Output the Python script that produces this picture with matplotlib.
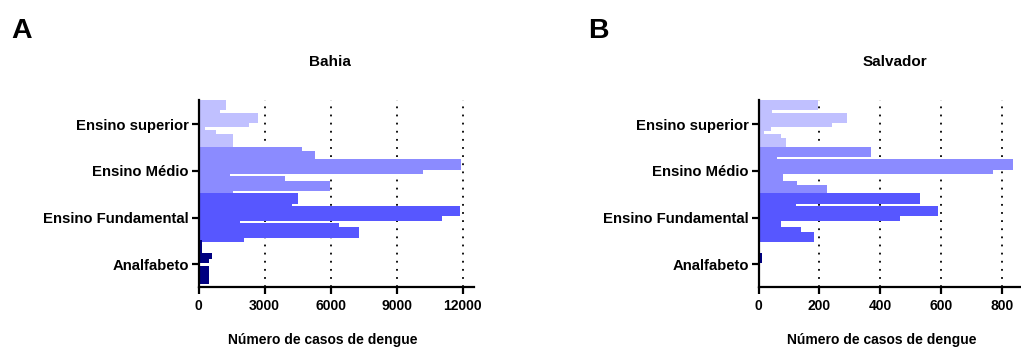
import matplotlib
matplotlib.use('Agg')
import matplotlib.pyplot as plt
import numpy as np

plt.rcParams['font.family'] = ['Liberation Sans', 'DejaVu Sans']
plt.rcParams['font.weight'] = 'bold'

# categories, bottom to top
categories = ['Analfabeto', 'Ensino Fundamental', 'Ensino Médio', 'Ensino superior']

# 11 overlapping bars per category (top bar first)
bahia_superior = [1270, 1270, 970, 2697, 2697, 2273, 318, 800, 1576, 1576, 1550]
bahia_medio = [4683, 5300, 5300, 11940, 11940, 10220, 1450, 3925, 5994, 5994, 1555]
bahia_fundamental = [4545, 4545, 4242, 11909, 11909, 11090, 1894, 6394, 7303, 7303, 2090]
bahia_analfabeto = [150, 150, 150, 606, 485, 60, 470, 470, 470, 470, 0]

salvador_superior = [194, 194, 43, 292, 292, 241, 40, 18, 75, 90, 90]
salvador_medio = [370, 370, 62, 835, 835, 769, 81, 81, 125, 226, 226]
salvador_fundamental = [531, 531, 124, 588, 588, 464, 73, 73, 140, 181, 181]
salvador_analfabeto = [3, 1, 1, 13, 12, 1, 1, 3, 4, 2, 0]

bahia_ticks = [0, 3000, 6000, 9000, 12000]
salvador_ticks = [0, 200, 400, 600, 800]

colors = ['#000080', '#5757FF', '#8B8BFF', '#C0C0FF']

W, H = 1021, 349
fig = plt.figure(figsize=(W / 100, H / 100), dpi=100)


def px_axes(left, right, top, bottom):
    return fig.add_axes([left / W, 1 - bottom / H, (right - left) / W, (bottom - top) / H])


def draw_panel(ax, groups, xmax, ticks):
    n = len(groups[0])
    step = 1.0 / n
    thick = 1.41 * step
    span = (n - 1) * step + thick
    # draw top group first so lower groups sit on top of the overlap
    for g in range(len(groups) - 1, -1, -1):
        vals = groups[g]
        top = g + span / 2
        ys = [top - k * step - thick / 2 for k in range(n)]
        ax.barh(ys, vals, height=thick, color=colors[g], linewidth=0, zorder=2)
    ax.set_xlim(0, xmax)
    ax.set_ylim(-0.48, 3 + span / 2)
    ax.set_xticks(ticks)
    ax.set_yticks(range(len(categories)))
    ax.set_yticklabels(categories)
    ax.xaxis.grid(True, linestyle=(0, (1, 3.5)), color='black', linewidth=1.3)
    ax.set_axisbelow(True)
    for s in ['top', 'right']:
        ax.spines[s].set_visible(False)
    for s in ['left', 'bottom']:
        ax.spines[s].set_linewidth(1.6)
        ax.spines[s].set_zorder(3)
    ax.tick_params(axis='both', direction='out', length=5, width=1.6)
    ax.tick_params(axis='y', labelsize=10.7, pad=2)
    ax.tick_params(axis='x', labelsize=10, pad=4)
    for lbl in ax.get_xticklabels() + ax.get_yticklabels():
        lbl.set_fontweight('bold')


ax1 = px_axes(198.5, 473.5, 100, 286.7)
draw_panel(ax1, [bahia_analfabeto, bahia_fundamental, bahia_medio, bahia_superior], 12500, bahia_ticks)

ax2 = px_axes(758.5, 1023.5, 100, 286.7)
draw_panel(ax2, [salvador_analfabeto, salvador_fundamental, salvador_medio, salvador_superior], 870, salvador_ticks)

fig.text(11 / W, 1 - 31 / H, 'A', fontsize=20.5, fontweight='bold', va='center', ha='left')
fig.text(588 / W, 1 - 31 / H, 'B', fontsize=20.5, fontweight='bold', va='center', ha='left')
fig.text(330 / W, 1 - 62 / H, 'Bahia', fontsize=11, fontweight='bold', va='center', ha='center')
fig.text(895 / W, 1 - 62 / H, 'Salvador', fontsize=11, fontweight='bold', va='center', ha='center')
fig.text(323 / W, 1 - 340 / H, 'Número de casos de dengue', fontsize=10, fontweight='bold', va='center', ha='center')
fig.text(882 / W, 1 - 340 / H, 'Número de casos de dengue', fontsize=10, fontweight='bold', va='center', ha='center')

fig.savefig('out.png', dpi=100)
